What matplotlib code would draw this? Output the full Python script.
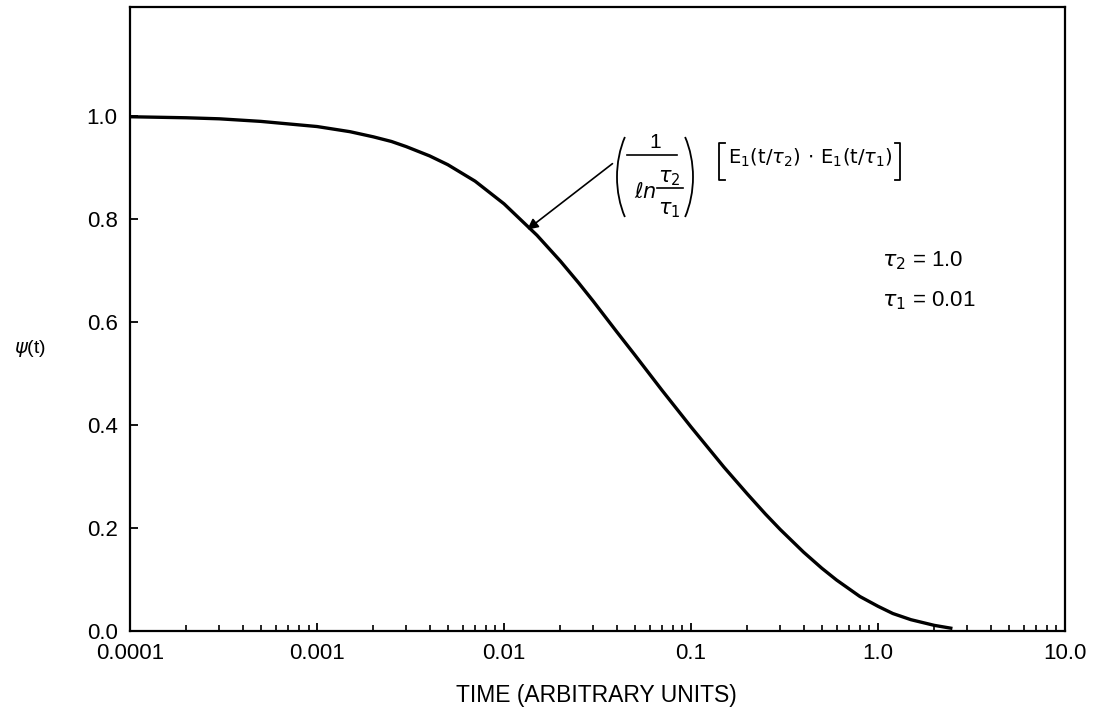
import matplotlib
matplotlib.use("Agg")
import matplotlib.pyplot as plt
from matplotlib.ticker import FixedLocator, FixedFormatter, NullFormatter
from matplotlib.transforms import Affine2D
from matplotlib.patches import Arc
from matplotlib.lines import Line2D

plt.rcParams['font.family'] = ['Liberation Sans', 'DejaVu Sans']
plt.rcParams['mathtext.fontset'] = 'dejavusans'

# data
t_vals = [1e-4, 2e-4, 3e-4, 5e-4, 1e-3, 1.5e-3, 2e-3, 2.5e-3, 3e-3, 4e-3, 5e-3, 7e-3,
          1e-2, 1.5e-2, 2e-2, 2.5e-2, 3e-2, 4e-2, 5e-2, 7e-2, 0.1, 0.15, 0.2, 0.25,
          0.3, 0.4, 0.5, 0.6, 0.8, 1.0, 1.2, 1.5, 2.0, 2.5]
psi_vals = [0.998, 0.996, 0.994, 0.989, 0.979, 0.969, 0.959, 0.950, 0.940, 0.922, 0.905, 0.873,
            0.829, 0.768, 0.718, 0.676, 0.640, 0.581, 0.536, 0.467, 0.396, 0.318, 0.266, 0.227,
            0.197, 0.153, 0.122, 0.099, 0.067, 0.048, 0.034, 0.022, 0.011, 0.005]

x_major = [1e-4, 1e-3, 1e-2, 1e-1, 1.0, 10.0]
x_major_labels = ["0.0001", "0.001", "0.01", "0.1", "1.0", "10.0"]
y_major = [0.0, 0.2, 0.4, 0.6, 0.8, 1.0]
y_major_labels = ["0.0", "0.2", "0.4", "0.6", "0.8", "1.0"]

W, H = 1093, 714
fig = plt.figure(figsize=(W / 100, H / 100), dpi=100)
ax = fig.add_axes([0.119, 0.1162, 0.9744 - 0.119, 0.9895 - 0.1162])

ax.plot(t_vals, psi_vals, color='black', lw=2.4, solid_capstyle='butt')

ax.set_xscale('log')
ax.set_xlim(1e-4, 10.0)
ax.set_ylim(0.0, 1.21)

ax.xaxis.set_major_locator(FixedLocator(x_major))
ax.xaxis.set_major_formatter(FixedFormatter(x_major_labels))
minors = []
for d in [1e-4, 1e-3, 1e-2, 1e-1, 1.0]:
    for k in range(2, 10):
        minors.append(d * k)
ax.xaxis.set_minor_locator(FixedLocator(minors))
ax.xaxis.set_minor_formatter(NullFormatter())
ax.yaxis.set_major_locator(FixedLocator(y_major))
ax.yaxis.set_major_formatter(FixedFormatter(y_major_labels))

ax.tick_params(axis='both', which='major', direction='in', length=6, width=1.3,
               labelsize=16, colors='black')
ax.tick_params(axis='y', which='major', pad=9)
ax.tick_params(axis='x', which='major', pad=8.5)
ax.tick_params(axis='x', which='minor', direction='in', length=4.5, width=1.2)
for s in ax.spines.values():
    s.set_linewidth(1.6)
    s.set_color('black')

fig.text(0.546, 0.026, "TIME (ARBITRARY UNITS)", ha='center', va='center', fontsize=16.5)
fig.text(0.0274, 0.5126, r"$\psi$(t)", ha='center', va='center', fontsize=14)

# arrow to the curve
ax.annotate("", xy=(0.0133, 0.779), xytext=(0.038, 0.907),
            arrowprops=dict(arrowstyle='-|>', color='black', lw=1.2,
                            mutation_scale=16, shrinkA=0, shrinkB=0))

# formula built in pixel coordinates (origin top-left)
P = Affine2D().scale(1 / W, -1 / H).translate(0, 1) + fig.transFigure
lw_f = 1.3
fig.patches.append(Arc((672.6, 177), 111.2, 155.6, theta1=140, theta2=220,
                       transform=P, color='black', lw=lw_f))
fig.patches.append(Arc((637.4, 177), 111.2, 155.6, theta1=-40, theta2=40,
                       transform=P, color='black', lw=lw_f))
fig.text(655, 143, "1", transform=P, ha='center', va='center', fontsize=15)
fig.lines.append(Line2D([627, 677], [155, 155], transform=P, color='black', lw=1.2))
fig.text(645, 192, r"$\ell n$", transform=P, ha='center', va='center', fontsize=15)
fig.text(669, 178, r"$\tau_2$", transform=P, ha='center', va='center', fontsize=15)
fig.lines.append(Line2D([657, 683], [188, 188], transform=P, color='black', lw=1.2))
fig.text(669, 210, r"$\tau_1$", transform=P, ha='center', va='center', fontsize=15)

# bracketed part
fig.lines.append(Line2D([725, 719, 719, 725], [143, 143, 180, 180], transform=P,
                        color='black', lw=lw_f))
fig.lines.append(Line2D([895, 900, 900, 895], [143, 143, 180, 180], transform=P,
                        color='black', lw=lw_f))
fig.text(810, 164,
         r"$\mathrm{E}_1\mathrm{(t/}\tau_2\mathrm{)}\,\cdot\,\mathrm{E}_1\mathrm{(t/}\tau_1\mathrm{)}$",
         transform=P, ha='center', va='baseline', fontsize=14)

ax.text(1.05, 0.719, r"$\tau_2$ = 1.0", ha='left', va='center', fontsize=16)
ax.text(1.05, 0.641, r"$\tau_1$ = 0.01", ha='left', va='center', fontsize=16)

fig.savefig("out.png", dpi=100)
